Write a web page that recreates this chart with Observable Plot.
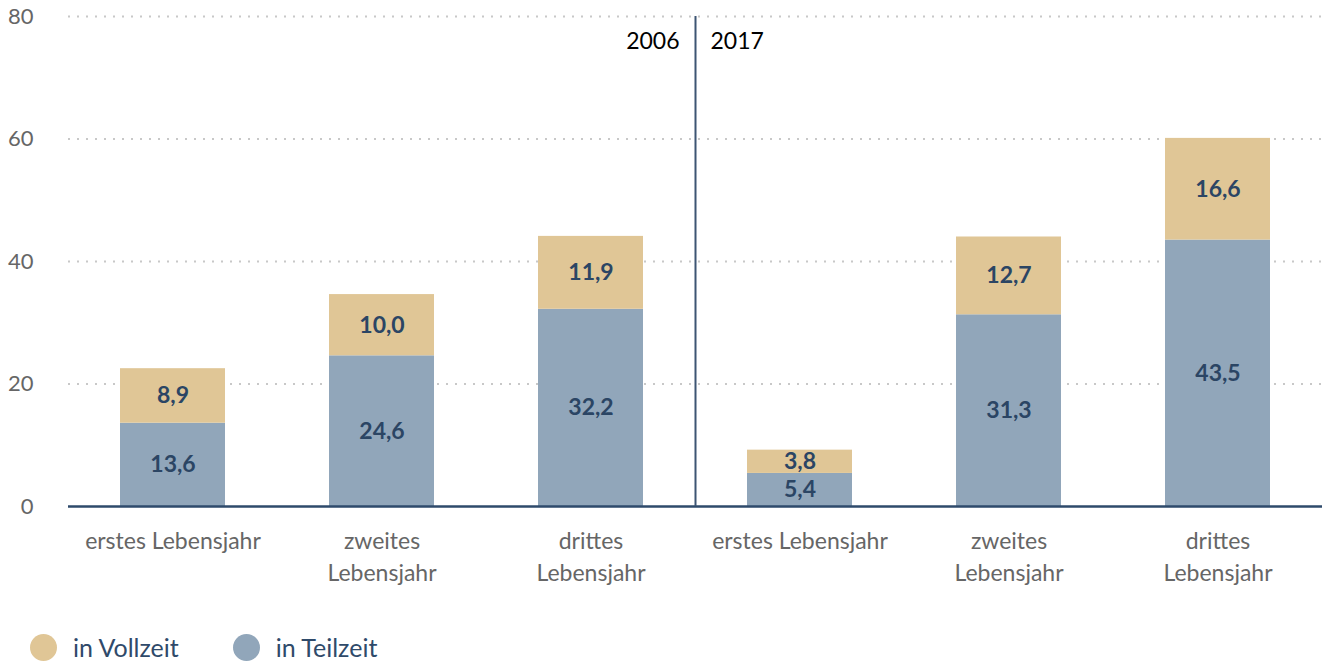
<!DOCTYPE html>
<html><head><meta charset="utf-8">
<script src="https://cdn.jsdelivr.net/npm/d3@7"></script>
<script src="https://cdn.jsdelivr.net/npm/@observablehq/plot@0.6"></script>
<style>
body{margin:0;background:#fff;font-family:"Source Sans Pro",Lato,sans-serif;}
#wrap{position:relative;width:1329px;height:661px;}
#legend{position:absolute;left:30px;top:632px;display:flex;align-items:center;font-size:25px;color:#2f4a6a;}
.item{display:flex;align-items:center;margin-right:54px;}
.sw{width:27px;height:27px;border-radius:50%;margin-right:16px;}
</style></head><body>
<div id="wrap"><div id="chart"></div><div id="legend"></div></div>
<script>
const years = ["2006", "2017"];
const ages = ["erstes Lebensjahr", "zweites\nLebensjahr", "drittes\nLebensjahr"];
const series = ["in Teilzeit", "in Vollzeit"];
const teilzeit = [13.6, 24.6, 32.2, 5.4, 31.3, 43.5];
const vollzeit = [8.9, 10.0, 11.9, 3.8, 12.7, 16.6];
const yTicks = [0, 20, 40, 60, 80];
const colors = ["#91a6ba", "#e0c696"];
const legendOrder = ["in Vollzeit", "in Teilzeit"];

const keys = [];
years.forEach(y => ages.forEach(a => keys.push(y + "|" + a)));
const data = [];
keys.forEach((k, i) => data.push({key: k, series: series[0], value: teilzeit[i]}));
keys.forEach((k, i) => data.push({key: k, series: series[1], value: vollzeit[i]}));

const W = 1329, H = 626, ML = 68, MR = 7;
const step = (W - ML - MR) / keys.length;
const fmt = v => v.toFixed(1).replace(".", ",");

const chart = Plot.plot({
  width: W, height: H,
  marginLeft: ML, marginRight: MR, marginTop: 16, marginBottom: H - 506,
  style: {fontFamily: '"Source Sans Pro", Lato, sans-serif', background: "#fff"},
  x: {domain: keys, paddingInner: 0.5, paddingOuter: 0.25, label: null, axis: null},
  y: {domain: [0, 80], label: null, axis: null},
  color: {domain: series, range: colors},
  marks: [
    Plot.gridY([20, 40, 60, 80], {stroke: "#c8c8c8", strokeOpacity: 1, strokeWidth: 2, strokeDasharray: "2,7"}),
    Plot.axisY(yTicks, {tickSize: 0, tickPadding: 35, fontSize: 22, color: "#666", label: null}),
    Plot.axisX({tickSize: 0, tickPadding: 20, fontSize: 23, color: "#666", lineHeight: 1.38, label: null, tickFormat: d => d.split("|")[1]}),
    Plot.barY(data, {x: "key", y: "value", fill: "series"}),
    Plot.text(data, Plot.stackY({x: "key", y: "value", text: d => fmt(d.value), fill: "#2b4564", fontWeight: "bold", fontSize: 23})),
    Plot.ruleY([0], {stroke: "#2e4a6b", strokeWidth: 2.5}),
    Plot.ruleX([keys[3]], {y1: 0, y2: 80, dx: -step / 2, stroke: "#3d5573", strokeWidth: 2}),
    Plot.text([years[0]], {x: () => keys[3], frameAnchor: "top", dy: 16, dx: -step / 2 - 16, textAnchor: "end", text: d => d, fill: "#000", fontSize: 23}),
    Plot.text([years[1]], {x: () => keys[3], frameAnchor: "top", dy: 16, dx: -step / 2 + 15, textAnchor: "start", text: d => d, fill: "#000", fontSize: 23})
  ]
});
document.getElementById("chart").appendChild(chart);

const legend = document.getElementById("legend");
legendOrder.forEach(s => {
  const it = document.createElement("div"); it.className = "item";
  const sw = document.createElement("div"); sw.className = "sw"; sw.style.background = colors[series.indexOf(s)];
  const t = document.createElement("span"); t.textContent = s;
  it.appendChild(sw); it.appendChild(t); legend.appendChild(it);
});
</script>
</body></html>
